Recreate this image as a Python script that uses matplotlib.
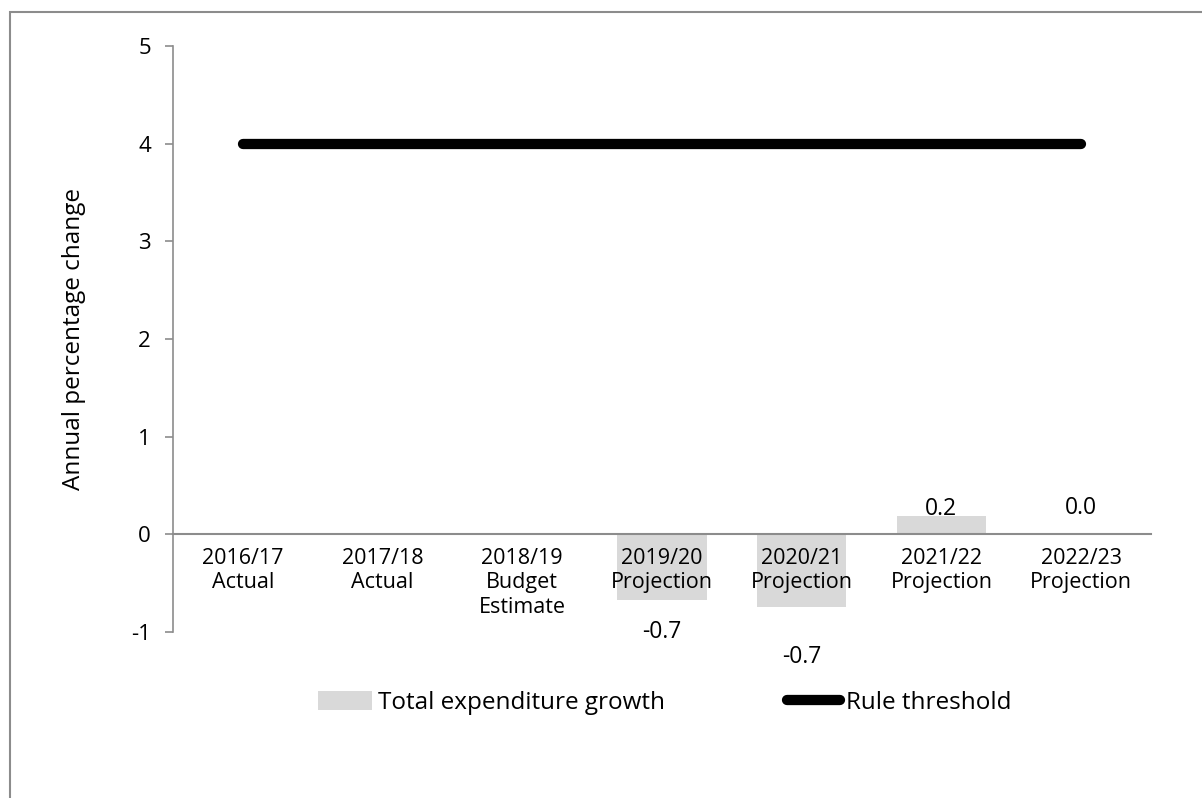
import matplotlib.pyplot as plt
import numpy as np
from matplotlib.patches import Rectangle, Patch
from matplotlib.lines import Line2D

plt.rcParams['font.family'] = ['Open Sans', 'DejaVu Sans']
plt.rcParams['axes.unicode_minus'] = False

years = ["2016/17", "2017/18", "2018/19", "2019/20", "2020/21", "2021/22", "2022/23"]
stages = ["Actual", "Actual", "Budget\nEstimate", "Projection", "Projection", "Projection", "Projection"]
# no expenditure bar for the first three years
expenditure_growth = [np.nan, np.nan, np.nan, -0.67, -0.74, 0.19, 0.0]
rule_threshold = [4, 4, 4, 4, 4, 4, 4]

# label offsets in points from the bar end (hand-placed)
label_offsets = [0, 0, 0, -23, -36, 5, 19]

fig = plt.figure(figsize=(12.02, 7.98), dpi=100)
ax = fig.add_axes([173 / 1202, 1 - 632 / 798, (1151 - 173) / 1202, (632 - 46) / 798])

x = np.arange(len(years))
grey = "#D9D9D9"
axis_grey = "#8C8C8C"

# zorder 1 keeps the bars under the category labels
ax.bar(x, expenditure_growth, width=0.64, color=grey, zorder=1)
ax.plot(x, rule_threshold, color="black", lw=7.4, solid_capstyle="round", zorder=3)

for xi, v, off in zip(x, expenditure_growth, label_offsets):
    if np.isnan(v):
        continue
    ax.annotate(f"{v:.1f}", (xi, v), xytext=(0, off), textcoords="offset points",
                ha="center", va="center", fontsize=16.5, color="black")

ax.set_xlim(-0.5, len(years) - 0.5)
ax.set_ylim(-1, 5)
ax.set_yticks(range(-1, 6))
ax.tick_params(axis="y", length=6, width=1.2, color=axis_grey, labelsize=16, pad=10)
ax.set_ylabel("Annual percentage change", fontsize=17.5, labelpad=32)

ax.tick_params(axis="x", length=0, pad=10, labelsize=15.5)
ax.set_xticks(x)
ax.set_xticklabels([f"{y}\n{s}" for y, s in zip(years, stages)], linespacing=0.95)

for side in ["top", "right"]:
    ax.spines[side].set_visible(False)
ax.spines["bottom"].set_position(("data", 0))
ax.spines["bottom"].set_color(axis_grey)
ax.spines["bottom"].set_linewidth(1.5)
ax.spines["left"].set_color(axis_grey)
ax.spines["left"].set_linewidth(1.2)

handles = [Patch(facecolor=grey, edgecolor="none", label="Total expenditure growth"),
           Line2D([0], [0], color="black", lw=7.4, solid_capstyle="round", label="Rule threshold")]
fig.legend(handles=handles, loc="center", bbox_to_anchor=(665 / 1202, 1 - 703 / 798), ncol=2,
           frameon=False, fontsize=17.5, handlelength=2.2, handleheight=0.8,
           handletextpad=0.25, columnspacing=5.0)

# chart-area border (only the top and left edges fall inside the canvas)
fig.patches.append(Rectangle((10 / 1202, -0.1), 1.2, 1.1 - 12 / 798, transform=fig.transFigure,
                             fill=False, edgecolor=axis_grey, lw=1.5))

fig.savefig("out.png", dpi=100)
